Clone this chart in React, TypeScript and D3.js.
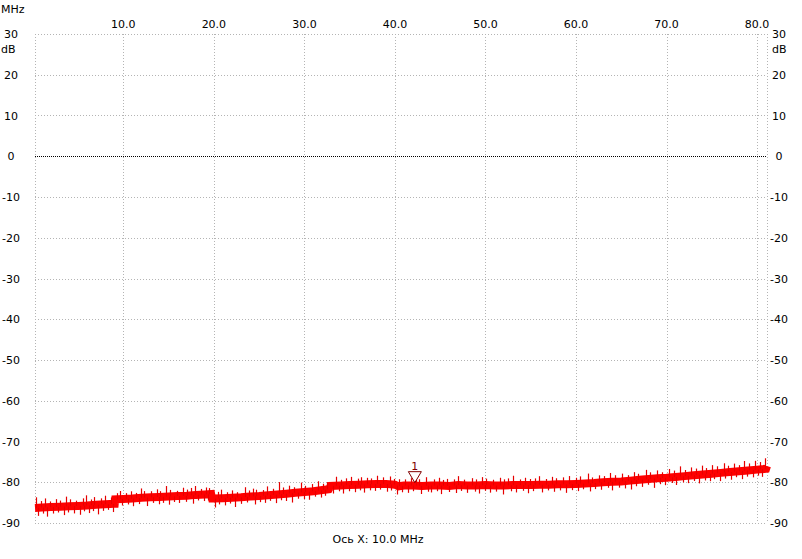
// Spectrum trace (dB vs MHz) — noise floor band with spikes, marker 1.
import { useEffect, useRef } from "react";
import * as d3 from "d3";

const W = 802;
const H = 559;

// axis ticks
const freqTicks = [10, 20, 30, 40, 50, 60, 70, 80];
const dbTicks = [30, 20, 10, 0, -10, -20, -30, -40, -50, -60, -70, -80, -90];
const freqRange = [0.24, 81.1];

// noise-floor level (MHz, dB)
const levelFreq = [
  0.24, 1, 2, 3, 4, 5, 6, 7, 8, 9, 9.05, 9.1, 10, 11, 12, 13, 14, 15, 16, 17, 18, 19, 19.7, 19.8,
  20, 21, 22, 23, 24, 25, 26, 27, 28, 29, 30, 31, 32, 32.7, 32.9, 34, 35, 36, 37, 38, 39, 40, 40.4,
  41, 42, 43, 44, 45, 46, 47, 48, 49, 50, 51, 52, 53, 54, 55, 56, 57, 58, 59, 60, 61, 62, 63, 64,
  65, 66, 67, 68, 69, 70, 71, 72, 73, 74, 75, 76, 77, 78, 79, 80, 81, 81.1,
];
const levelDb = [
  -86.3, -86.2, -86.1, -86.0, -85.9, -85.8, -85.7, -85.5, -85.4, -85.3, -85.3, -84.2, -84.1, -84.0,
  -83.8, -83.7, -83.6, -83.5, -83.4, -83.3, -83.1, -83.0, -82.9, -84.0,
  -84.0, -83.9, -83.8, -83.7, -83.5, -83.4, -83.2, -83.0, -82.8, -82.6, -82.4, -82.2, -81.9, -81.7,
  -80.9, -80.8, -80.7, -80.6, -80.5, -80.4, -80.4, -80.6, -81.0,
  -80.8, -80.8, -80.9, -80.8, -80.8, -80.9, -80.7, -80.8, -80.8, -80.7, -80.8, -80.8, -80.7, -80.7,
  -80.7, -80.6, -80.6, -80.5, -80.5, -80.4, -80.3, -80.2, -80.0, -79.9,
  -79.8, -79.6, -79.4, -79.2, -79.0, -78.9, -78.7, -78.5, -78.3, -78.1, -77.9, -77.7, -77.5, -77.3,
  -77.1, -76.9, -76.7, -76.0,
];

// spikes above the floor: [MHz, dB above floor]
const upSpikes: [number, number][] = [
  [0.3, 2.6], [0.9, 1.6], [1.3, 2.2], [1.9, 1.4], [2.6, 1.9], [3.0, 1.5], [3.7, 2.4], [4.1, 1.7],
  [4.8, 1.3], [5.5, 1.8], [5.9, 2.5], [6.4, 1.4], [6.8, 1.9], [7.5, 1.5], [8.0, 2.1], [8.6, 1.6],
  [9.3, 1.5], [9.6, 2.0], [10.3, 1.4], [10.8, 1.8], [11.4, 1.3], [11.9, 2.3], [12.3, 1.6],
  [13.0, 1.5], [13.7, 1.9], [14.1, 1.4], [14.7, 2.6], [15.2, 1.6], [15.9, 1.3], [16.6, 2.0],
  [17.0, 1.5], [17.5, 1.8], [17.9, 2.2], [18.6, 1.4], [19.1, 1.7], [19.5, 1.5], [20.4, 1.6],
  [20.8, 2.1], [21.5, 1.4], [22.0, 1.8], [22.6, 1.3], [23.4, 2.4], [23.9, 1.5], [24.3, 1.9],
  [24.7, 1.6], [25.4, 1.4], [25.9, 2.2], [26.5, 1.5], [27.2, 3.0], [27.6, 1.6], [28.3, 1.9],
  [28.9, 1.4], [29.6, 2.4], [30.1, 1.5], [30.8, 1.8], [31.5, 2.3], [32.1, 1.5], [32.5, 1.8],
  [33.5, 2.2], [34.0, 1.4], [34.6, 1.7], [35.2, 2.0], [35.9, 1.5], [36.3, 1.8], [36.9, 1.6],
  [37.4, 1.4], [38.0, 2.0], [38.7, 1.6], [39.4, 1.9], [39.9, 1.4], [40.5, 1.7], [41.1, 1.5],
  [41.8, 1.8], [42.3, 1.4], [42.7, 1.6], [43.4, 2.1], [44.3, 1.5], [44.9, 1.9], [45.3, 1.4],
  [45.8, 1.7], [46.5, 1.5], [47.0, 2.2], [47.6, 1.4], [48.5, 1.8], [49.0, 1.5], [49.6, 2.0],
  [50.1, 1.6], [50.8, 1.4], [51.6, 1.9], [52.1, 1.5], [52.5, 1.7], [53.0, 2.3], [53.8, 1.4],
  [54.4, 1.8], [54.9, 1.5], [55.5, 1.6], [55.9, 2.1], [56.7, 1.4], [57.3, 1.9], [57.8, 1.5],
  [58.6, 1.7], [59.2, 2.0], [60.0, 1.5], [60.4, 1.8], [61.3, 2.4], [61.8, 1.4], [62.5, 1.8],
  [63.1, 1.5], [63.8, 2.2], [64.3, 1.6], [65.1, 1.9], [65.7, 1.4], [66.4, 2.0], [66.9, 1.5],
  [67.7, 2.3], [68.2, 1.6], [69.0, 1.9], [69.5, 1.4], [70.3, 2.1], [70.8, 1.6], [71.5, 2.5],
  [72.0, 1.5], [72.7, 2.0], [73.3, 1.6], [73.9, 2.2], [74.4, 1.5], [75.0, 2.1], [75.6, 1.7],
  [76.3, 2.3], [76.8, 1.6], [77.4, 2.0], [78.0, 1.5], [78.6, 2.4], [79.1, 1.7], [79.8, 2.2],
  [80.3, 1.8], [80.9, 2.6],
];

// spikes below the floor: [MHz, dB below floor]
const downSpikes: [number, number][] = [
  [0.6, 2.0], [1.1, 1.5], [1.6, 2.3], [2.2, 1.6], [2.8, 1.4], [3.4, 2.1], [3.9, 1.5], [4.5, 1.8],
  [5.2, 2.2], [5.7, 1.4], [6.2, 1.9], [6.6, 1.5], [7.2, 2.4], [7.8, 1.6], [8.3, 1.4], [8.9, 2.0],
  [9.9, 1.6], [10.5, 1.4], [11.1, 1.9], [11.7, 1.5], [12.6, 2.1], [13.3, 1.4], [13.9, 1.8],
  [14.4, 1.5], [15.0, 2.0], [15.6, 1.4], [16.2, 1.7], [16.9, 1.5], [17.7, 2.1], [18.3, 1.4],
  [18.9, 1.6], [19.3, 1.5], [20.1, 2.2], [20.6, 1.5], [21.2, 1.8], [21.8, 1.4], [22.3, 2.3],
  [23.0, 1.6], [23.7, 1.4], [24.5, 2.0], [25.1, 1.5], [25.7, 1.8], [26.2, 1.4], [26.9, 2.1],
  [27.4, 1.5], [28.0, 1.8], [28.6, 2.3], [29.3, 1.5], [29.9, 1.7], [30.5, 2.0], [31.2, 1.4],
  [31.8, 1.8], [32.3, 1.5], [33.2, 1.9], [33.8, 1.4], [34.3, 2.0], [34.9, 1.5], [35.6, 1.8],
  [36.1, 1.4], [36.6, 2.0], [37.2, 1.5], [37.8, 1.7], [38.4, 1.4], [39.1, 1.9], [39.6, 1.5],
  [40.2, 2.2], [40.8, 1.6], [41.4, 1.8], [42.0, 1.4], [42.9, 2.0], [43.7, 1.5], [44.0, 1.7],
  [44.6, 1.4], [45.1, 2.1], [46.0, 1.5], [46.8, 1.9], [47.3, 1.4], [48.0, 1.8], [48.8, 1.5],
  [49.3, 2.0], [49.9, 1.4], [50.5, 1.8], [51.2, 1.5], [51.9, 2.2], [52.8, 1.5], [53.4, 1.8],
  [54.1, 1.4], [54.7, 2.0], [55.2, 1.5], [56.2, 1.9], [56.9, 1.4], [57.6, 1.8], [58.2, 1.5],
  [58.9, 2.1], [59.6, 1.5], [60.2, 1.8], [60.8, 1.4], [61.5, 2.0], [62.1, 1.5], [62.8, 1.8],
  [63.5, 1.4], [64.0, 2.1], [64.7, 1.5], [65.4, 1.8], [66.1, 2.2], [66.6, 1.5], [67.3, 1.8],
  [67.9, 1.4], [68.6, 2.3], [69.3, 1.5], [69.8, 1.8], [70.6, 1.4], [71.1, 2.0], [71.8, 1.5],
  [72.4, 1.8], [73.0, 1.4], [73.6, 2.1], [74.2, 1.5], [74.8, 1.8], [75.3, 1.4], [75.9, 2.0],
  [76.5, 1.5], [77.1, 1.9], [77.7, 1.4], [78.3, 2.0], [78.9, 1.5], [79.5, 1.8], [80.1, 1.5],
  [80.6, 1.9],
];

// marker 1
const markerFreq = 42.2;
const markerDb = -80.1;
const markerLabel = "1";

export default function App() {
  const hostRef = useRef<SVGSVGElement>(null);

  useEffect(() => {
    const node = hostRef.current;
    if (!node) return;
    const svg = d3.select(node);
    svg.selectAll("*").remove();

    const left = 35;
    const right = 767;
    const top = 34;
    const bottom = 523;
    const font = "DejaVu Sans, Verdana, sans-serif";

    const x = d3.scaleLinear().domain(freqRange).range([left, right]);
    const y = d3.scaleLinear().domain([-90, 30]).range([bottom, top]);
    const floor = d3.scaleLinear().domain(levelFreq).range(levelDb);

    svg.append("rect").attr("width", W).attr("height", H).attr("fill", "#fff");

    // grid
    const grid = svg.append("g").attr("shape-rendering", "crispEdges");
    grid
      .selectAll("line.h")
      .data(dbTicks)
      .join("line")
      .attr("x1", left)
      .attr("x2", right)
      .attr("y1", (d) => Math.round(y(d)) + 0.5)
      .attr("y2", (d) => Math.round(y(d)) + 0.5)
      .attr("stroke", (d) => (d === 0 ? "#000" : "#b4b4b4"))
      .attr("stroke-dasharray", (d) => (d === 0 ? "1 1" : "1 2"));
    grid
      .selectAll("line.v")
      .data([freqRange[0], ...freqTicks, freqRange[1]])
      .join("line")
      .attr("x1", (d) => Math.round(x(d)) + 0.5)
      .attr("x2", (d) => Math.round(x(d)) + 0.5)
      .attr("y1", top)
      .attr("y2", bottom)
      .attr("stroke", "#b4b4b4")
      .attr("stroke-dasharray", "1 2");

    // text
    const txt = svg
      .append("g")
      .attr("font-family", font)
      .attr("font-size", "11px")
      .attr("fill", "#000");
    txt.append("text").attr("x", 1).attr("y", 13).text("MHz");
    txt.append("text").attr("x", 1).attr("y", 53).text("dB");
    txt.append("text").attr("x", 772).attr("y", 53).text("dB");
    txt
      .selectAll("text.fx")
      .data(freqTicks)
      .join("text")
      .attr("x", (d) => x(d))
      .attr("y", 28)
      .attr("text-anchor", "middle")
      .text((d) => d.toFixed(1));
    txt
      .selectAll("text.dl")
      .data(dbTicks)
      .join("text")
      .attr("x", 11)
      .attr("y", (d) => y(d) + 4)
      .attr("text-anchor", "middle")
      .text((d) => `${d}`);
    txt
      .selectAll("text.dr")
      .data(dbTicks)
      .join("text")
      .attr("x", 779)
      .attr("y", (d) => y(d) + 4)
      .attr("text-anchor", "middle")
      .text((d) => `${d}`);
    txt
      .append("text")
      .attr("x", 378)
      .attr("y", 543)
      .attr("text-anchor", "middle")
      .text("Ось X: 10.0 MHz");

    // trace: floor band + spikes
    const tr = svg.append("g");
    const pts = levelFreq.map((f, i) => [f, levelDb[i]] as [number, number]);
    tr.append("path")
      .attr(
        "d",
        d3
          .line<[number, number]>()
          .x((d) => x(d[0]))
          .y((d) => y(d[1]))(pts)
      )
      .attr("fill", "none")
      .attr("stroke", "#ff0000")
      .attr("stroke-width", 8);

    const spikes = [
      ...upSpikes.map(([f, h]) => [f, floor(f) + h] as [number, number]),
      ...downSpikes.map(([f, h]) => [f, floor(f) - h] as [number, number]),
    ];
    tr.selectAll("line.sp")
      .data(spikes)
      .join("line")
      .attr("x1", (d) => Math.round(x(d[0])) + 0.5)
      .attr("x2", (d) => Math.round(x(d[0])) + 0.5)
      .attr("y1", (d) => y(floor(d[0])))
      .attr("y2", (d) => y(d[1]))
      .attr("stroke", "#e60000")
      .attr("stroke-width", 1.2);

    // marker 1
    const mx = x(markerFreq);
    const my = y(markerDb);
    svg
      .append("path")
      .attr("d", `M${mx},${my} L${mx - 6.5},${my - 11} L${mx + 6.5},${my - 11} Z`)
      .attr("fill", "none")
      .attr("stroke", "#800000")
      .attr("stroke-width", 1);
    svg
      .append("text")
      .attr("x", mx)
      .attr("y", my - 13)
      .attr("text-anchor", "middle")
      .attr("font-family", font)
      .attr("font-size", "11px")
      .attr("fill", "#800000")
      .text(markerLabel);
  }, []);

  return (
    <svg
      ref={hostRef}
      width={W}
      height={H}
      style={{ position: "fixed", left: 0, top: 0, display: "block" }}
    />
  );
}
